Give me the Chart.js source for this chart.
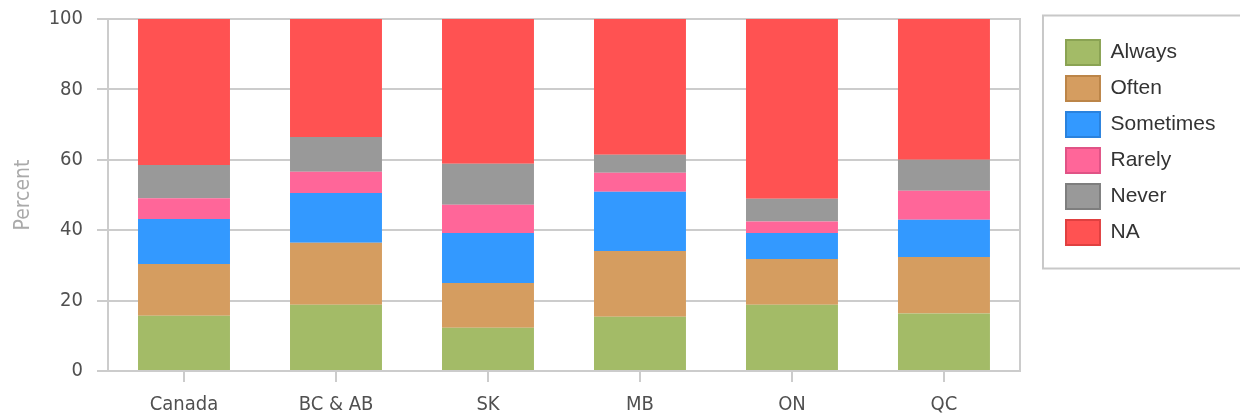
<!DOCTYPE html>
<html><head><meta charset="utf-8">
<script src="https://cdn.jsdelivr.net/npm/chart.js@4/dist/chart.umd.min.js"></script>
<style>html,body{margin:0;padding:0;background:#fff;overflow:hidden}</style>
</head><body>
<canvas id="c" width="1240" height="417"></canvas>
<script>
const categories = ['Canada', 'BC & AB', 'SK', 'MB', 'ON', 'QC'];
const seriesNames = ['Always', 'Often', 'Sometimes', 'Rarely', 'Never', 'NA'];
const always    = [15.7, 18.8, 12.3, 15.4, 18.8, 16.3];
const often     = [14.7, 17.6, 12.7, 18.7, 13.0, 16.1];
const sometimes = [12.8, 14.2, 14.2, 16.8,  7.4, 10.6];
const rarely    = [ 5.9,  6.0,  8.0,  5.4,  3.3,  8.2];
const never     = [ 9.4,  9.9, 11.7,  5.1,  6.4,  8.8];
const na        = [41.5, 33.5, 41.1, 38.6, 51.1, 40.0];
const yTicks = [0, 20, 40, 60, 80, 100];
const yTitle = 'Percent';

const fillColors   = ['#A3BB67', '#D59D60', '#3399FF', '#FF6699', '#999999', '#FF5252'];
const borderColors = ['#8AA353', '#BC8548', '#2A82DD', '#E05386', '#7E7E7E', '#E04040'];

const values = [always, often, sometimes, rarely, never, na];
const GRID = '#cccccc';
const FAMILY = "'DejaVu Sans Condensed', 'DejaVu Sans', sans-serif";
const TICKFONT = {family: FAMILY, size: 20};

const legendFrame = {
  id: 'legendFrame',
  afterDraw(chart) {
    const l = chart.legend;
    const ctx = chart.ctx;
    ctx.save();
    ctx.strokeStyle = '#c8c8c8';
    ctx.lineWidth = 2;
    ctx.strokeRect(l.left - 12, l.top - 3.5, 400, 253);
    ctx.restore();
  }
};

new Chart(document.getElementById('c'), {
  type: 'bar',
  data: {
    labels: categories,
    datasets: seriesNames.map((name, i) => ({
      label: name,
      data: values[i],
      backgroundColor: fillColors[i],
      borderColor: borderColors[i],
      borderWidth: 0,
      barPercentage: 0.605,
      categoryPercentage: 1.0
    }))
  },
  options: {
    responsive: false,
    animation: false,
    devicePixelRatio: 1,
    layout: {padding: {top: 19, right: 14.5, bottom: 0, left: 0}},
    plugins: {
      tooltip: {enabled: false},
      legend: {
        position: 'right',
        align: 'start',
        fullSize: false,
        title: {display: true, text: ' ', padding: 0, font: {size: 10, lineHeight: 1}},
        labels: {
          boxWidth: 34,
          boxHeight: 25,
          padding: 11,
          color: '#333333',
          font: {family: 'Liberation Sans', size: 21},
          generateLabels(chart) {
            const items = Chart.defaults.plugins.legend.labels.generateLabels(chart);
            return items.map((it, i) => Object.assign(it, {lineWidth: 2, strokeStyle: borderColors[i], fillStyle: fillColors[i]}));
          }
        }
      }
    },
    scales: {
      x: {
        stacked: true,
        offset: true,
        z: 1,
        afterFit(s) { s.height = 46; s.paddingLeft = 0; s.paddingRight = 0; },
        grid: {offset: false, drawOnChartArea: false, drawTicks: true, tickLength: 11, color: GRID, lineWidth: 2},
        border: {display: true, color: GRID, width: 2},
        ticks: {color: '#505050', font: TICKFONT, padding: 11, maxRotation: 0}
      },
      x2: {
        type: 'category',
        position: 'top',
        display: true,
        z: 1,
        afterFit(s) { s.height = 0; s.paddingLeft = 0; s.paddingRight = 0; },
        grid: {display: false, drawTicks: false},
        border: {display: true, color: GRID, width: 2},
        ticks: {display: false}
      },
      y: {
        stacked: true,
        min: 0,
        max: 100,
        afterFit(s) { s.width = 108; s.paddingTop = 0; s.paddingBottom = 0; },
        afterBuildTicks(s) { s.ticks = yTicks.map(v => ({value: v})); },
        grid: {color: GRID, lineWidth: 2, tickLength: 11},
        border: {display: true, color: GRID, width: 2},
        ticks: {color: '#505050', font: TICKFONT, padding: 14},
        title: {display: true, text: yTitle, color: '#aaaaaa', font: {family: FAMILY, size: 21}, padding: {top: 11, bottom: 0}}
      },
      y2: {
        type: 'linear',
        position: 'right',
        display: true,
        z: 1,
        afterFit(s) { s.width = 35; s.paddingTop = 0; s.paddingBottom = 0; },
        grid: {drawOnChartArea: false, drawTicks: false},
        border: {display: true, color: GRID, width: 2},
        ticks: {display: false}
      }
    }
  },
  plugins: [legendFrame]
});
</script>
</body></html>
